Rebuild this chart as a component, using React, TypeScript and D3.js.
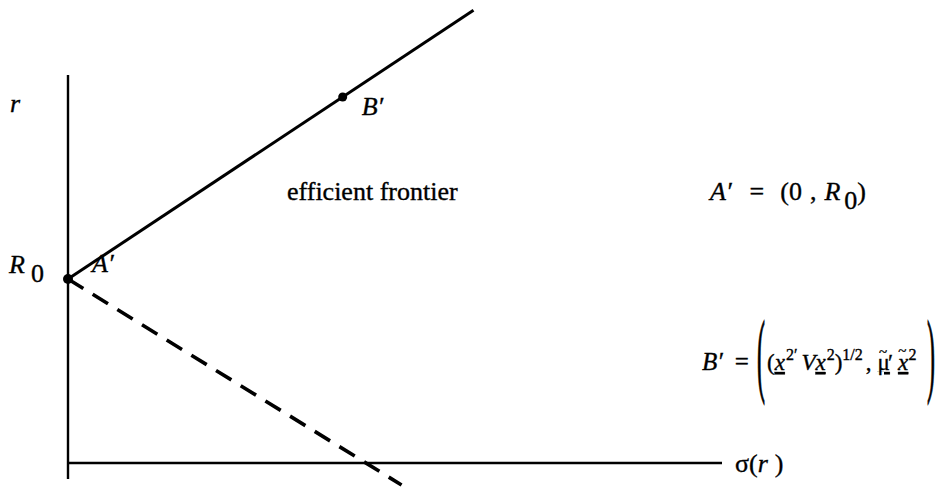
import React from "react";
import * as d3 from "d3";

const W = 941;
const H = 488;

// Axis extents in (σ, r) units
const sigmaAxisExtent = [0, 100];
const rAxisExtent = [-4, 97];

// Key portfolios
const R0 = 46;
const pointA = { sigma: 0, r: R0, label: "A′" };
const pointB = { sigma: 42, r: 91.5, label: "B′" };

// Upper branch (efficient frontier) and lower branch from the riskless point
const frontier = [
  { sigma: 0, r: R0 },
  { sigma: 62, r: 113.2 },
];
const lowerBranch = [
  { sigma: 0, r: R0 },
  { sigma: 51, r: -5.5 },
];

type P = { sigma: number; r: number };

const FONT = "Liberation Serif, Times New Roman, serif";

export default function App() {
  const x = d3.scaleLinear().domain([0, 100]).range([68, 722]);
  const y = d3.scaleLinear().domain([0, 100]).range([463, 63]);
  const line = d3
    .line<P>()
    .x((d) => x(d.sigma))
    .y((d) => y(d.r));

  const sup = { fontSize: 16 };
  return (
    <svg
      width={W}
      height={H}
      style={{ position: "absolute", left: 0, top: 0, background: "#fff" }}
      fontFamily={FONT}
      fontSize={26}
      fill="#000"
    >
      {/* axes */}
      <line
        x1={x(0)}
        x2={x(0)}
        y1={y(rAxisExtent[0])}
        y2={y(rAxisExtent[1])}
        stroke="#000"
        strokeWidth={2.4}
      />
      <line
        x1={x(sigmaAxisExtent[0])}
        x2={x(sigmaAxisExtent[1])}
        y1={y(0)}
        y2={y(0)}
        stroke="#000"
        strokeWidth={2.4}
      />

      {/* frontier lines */}
      <path d={line(frontier) || ""} fill="none" stroke="#000" strokeWidth={3} />
      <path
        d={line(lowerBranch) || ""}
        fill="none"
        stroke="#000"
        strokeWidth={3.6}
        strokeDasharray="18 11"
      />

      {/* points */}
      <circle cx={x(pointA.sigma)} cy={y(pointA.r)} r={5} fill="#000" />
      <circle cx={x(pointB.sigma)} cy={y(pointB.r)} r={4.5} fill="#000" />

      <g stroke="#000" strokeWidth={0.35}>
        {/* axis labels */}
        <text x={10} y={112} fontStyle="italic">r</text>
        <text x={735} y={472}>
          σ(<tspan fontStyle="italic">r</tspan>
          <tspan dx={7}>)</tspan>
        </text>
        <text x={9} y={273}>
          <tspan fontStyle="italic">R</tspan>
          <tspan dx={6} dy={9}>0</tspan>
        </text>

        {/* point labels */}
        <text x={x(pointA.sigma) + 24} y={y(pointA.r) - 7} fontStyle="italic">
          {pointA.label}
        </text>
        <text x={x(pointB.sigma) + 19} y={y(pointB.r) + 18} fontStyle="italic">
          {pointB.label}
        </text>

        <text x={287} y={200}>efficient frontier</text>

        {/* definitions */}
        <text x={710} y={200}>
          <tspan fontStyle="italic">A′</tspan>
          <tspan dx={18}>=</tspan>
          <tspan dx={16}>(0</tspan>
          <tspan dx={8}>,</tspan>
          <tspan dx={8} fontStyle="italic">R</tspan>
          <tspan dx={4} dy={9}>0</tspan>
          <tspan dy={-9}>)</tspan>
        </text>

        <text x={702} y={370} fontSize={25}>
          <tspan fontStyle="italic">B′</tspan>
          <tspan dx={12}>=</tspan>
        </text>
        <text transform="translate(757,385) scale(1,3.9)" fontSize={24}>(</text>
        <text x={767} y={370} fontSize={23}>
          <tspan>(</tspan>
          <tspan fontStyle="italic" textDecoration="underline">x</tspan>
          <tspan dx={1} dy={-10} style={sup}>2′</tspan>
          <tspan dx={4} dy={10} fontStyle="italic">V</tspan>
          <tspan fontStyle="italic" textDecoration="underline">x</tspan>
          <tspan dx={1} dy={-10} style={sup}>2</tspan>
          <tspan dy={10}>)</tspan>
          <tspan dy={-10} style={sup}>1/2</tspan>
          <tspan dx={3} dy={10}>,</tspan>
          <tspan dx={6} textDecoration="underline">μ</tspan>
          <tspan dx={-11} dy={-13} style={{ fontSize: 15 }}>~</tspan>
          <tspan dx={1} dy={13}>′</tspan>
          <tspan dx={5} fontStyle="italic" textDecoration="underline">x</tspan>
          <tspan dx={-10} dy={-14} style={{ fontSize: 15 }}>~</tspan>
          <tspan dx={2} dy={4} style={sup}>2</tspan>
        </text>
        <text transform="translate(927,385) scale(1,3.9)" fontSize={24}>)</text>
      </g>
    </svg>
  );
}
